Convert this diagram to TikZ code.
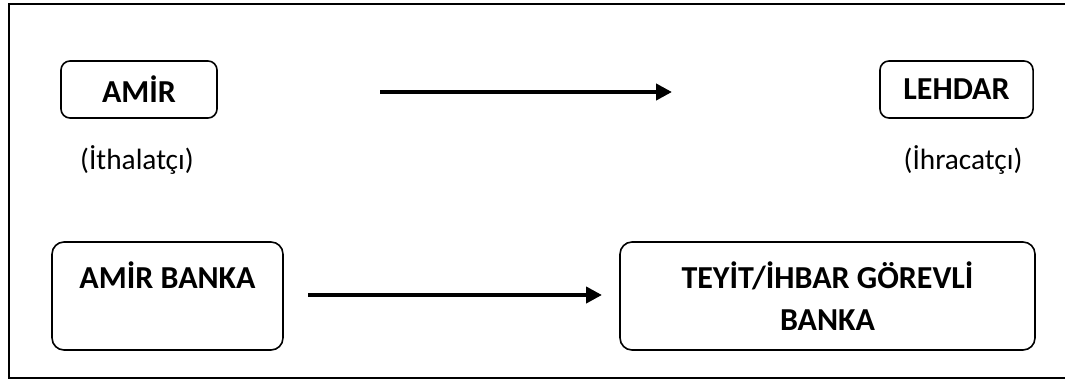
\documentclass[tikz,border=0pt]{standalone}
\usepackage{fontspec}
\setmainfont{Carlito}
\usetikzlibrary{arrows.meta}

\begin{document}
\begin{tikzpicture}[
  x=0.375pt, y=-0.375pt,
  party/.style={rectangle, draw, line width=0.6pt, rounded corners=3.4pt, minimum height=21.4pt, text centered, font=\bfseries\fontsize{12}{15.75}\selectfont},
  bank/.style={rectangle, draw, line width=0.6pt, rounded corners=4.5pt, minimum height=40.5pt, align=center, font=\bfseries\fontsize{12}{15.75}\selectfont},
  role/.style={font=\fontsize{11}{13}\selectfont},
  arrow/.style={-{Triangle[length=6pt, width=6pt]}, line width=1.6pt}
]
  \useasboundingbox (0,0) rectangle (1065,381);
  \draw[line width=0.75pt] (9,4) rectangle (1090,378);

  \node[party, minimum width=58.5pt] (amir) at (139,89.5) {AMİR};
  \node[party, minimum width=57.4pt] (lehdar) at (956.5,89.5) {LEHDAR};
  \node[role] (ithalatci) at (137,160) {(İthalatçı)};
  \node[role] (ihracatci) at (963,160) {(İhracatçı)};

  \node[bank, minimum width=86.6pt] (amirbanka) at (167.5,296) {AMİR BANKA\\\phantom{A}};
  \node[bank, minimum width=155.6pt] (teyitbanka) at (827.5,296) {TEYİT/İHBAR GÖREVLİ\\BANKA};

  \coordinate (topstart) at (380,92);
  \coordinate (topend) at (672,92);
  \coordinate (bankstart) at (308,295);
  \coordinate (bankend) at (602,295);

  \draw[arrow] (topstart) -- (topend);
  \draw[arrow] (bankstart) -- (bankend);
\end{tikzpicture}
\end{document}
